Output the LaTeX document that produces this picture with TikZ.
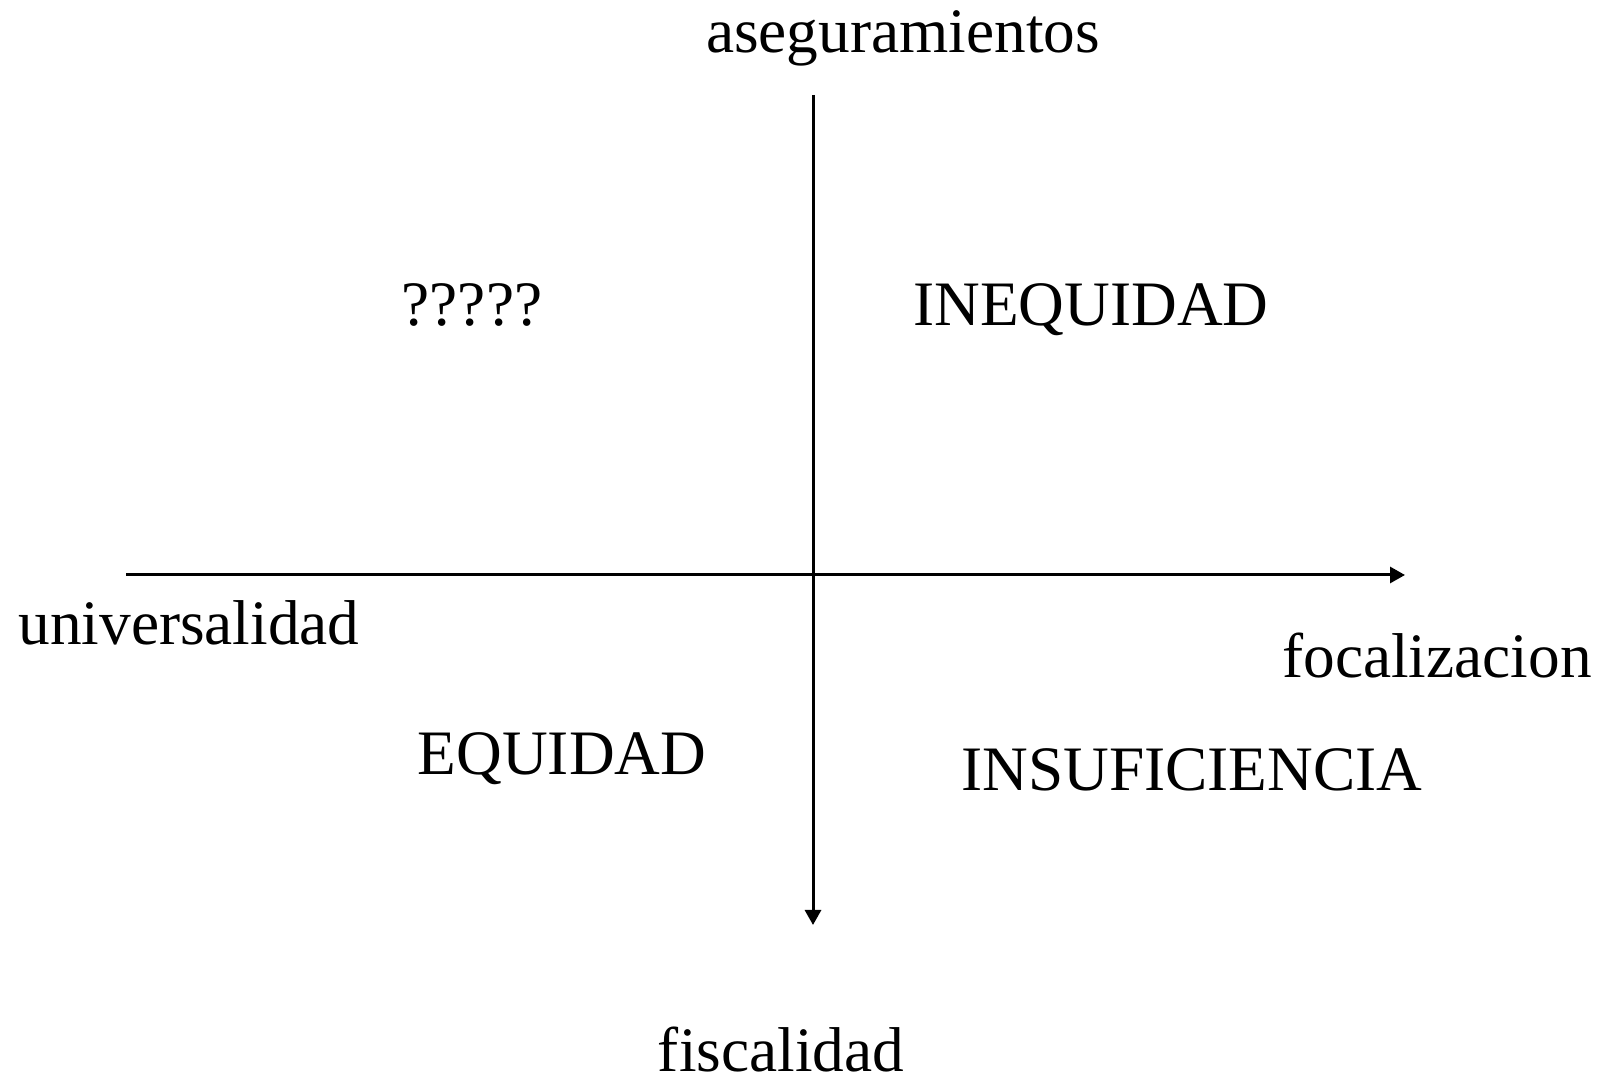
\documentclass[tikz,border=0pt]{standalone}
\usepackage{fontspec}
\setmainfont{Liberation Serif}
\usetikzlibrary{arrows.meta}

\begin{document}
\begin{tikzpicture}[x=0.01cm,y=-0.01cm,
  lbl/.style={anchor=base,inner sep=0pt,font=\fontsize{18pt}{20pt}\selectfont},
  axis/.style={black,line width=0.85pt,-{Triangle[length=1.5mm,width=1.6mm]}}]

\useasboundingbox (0,0) rectangle (1606,1083);

% ejes
\coordinate (west) at (126,575);
\coordinate (east) at (1405,575);
\coordinate (north) at (813,95);
\coordinate (south) at (813,925);
\draw[axis] (west) -- (east);
\draw[axis] (north) -- (south);

% extremos
\node[lbl] (asegur) at (903,53) {aseguramientos};
\node[lbl] (fiscal) at (781,1071) {fiscalidad};
\node[lbl] (univ) at (189,645) {universalidad};
\node[lbl] (focal) at (1437,678) {focalizacion};

% cuadrantes
\node[lbl] (preg) at (472,326) {?????};
\node[lbl] (ineq) at (1091,326) {INEQUIDAD};
\node[lbl] (equi) at (562,775) {EQUIDAD};
\node[lbl] (insuf) at (1192,791) {INSUFICIENCIA};
\end{tikzpicture}
\end{document}
